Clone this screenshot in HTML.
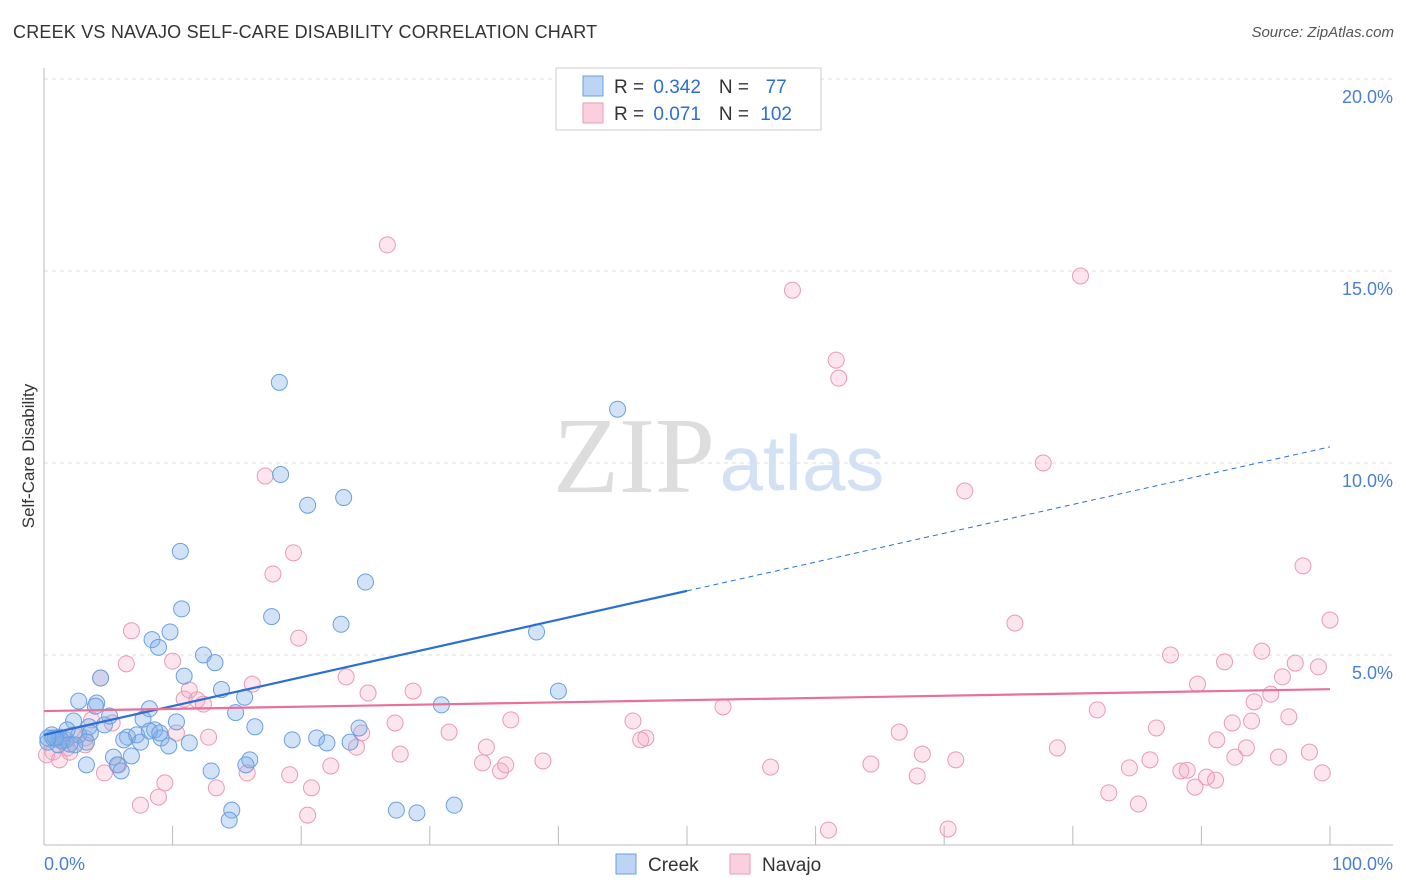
<!DOCTYPE html>
<html><head><meta charset="utf-8">
<style>
body{margin:0;background:#fff;font-family:"Liberation Sans",sans-serif;}
#wrap{position:relative;width:1406px;height:892px;overflow:hidden;}
.title{position:absolute;left:13px;top:22px;font-size:18px;color:#333;letter-spacing:0.2px;}
.source{position:absolute;right:12px;top:24px;font-size:15px;color:#555;font-style:italic;}
</style></head>
<body>
<div id="wrap">
<div class="title">CREEK VS NAVAJO SELF-CARE DISABILITY CORRELATION CHART</div>
<div class="source">Source: ZipAtlas.com</div>
<svg id="svg" width="1406" height="892" style="position:absolute;left:0;top:0">
<text x="634" y="492" font-family="Liberation Serif,serif" font-size="108" fill="#ddd" text-anchor="middle">ZIP</text>
<text x="802" y="490" font-family="Liberation Sans,sans-serif" font-size="78" fill="#d3e1f4" text-anchor="middle">atlas</text>
</svg>
</div>
<script>
const creekX=[18.3,44.6,18.4,20.5,23.3,10.6,25.0,10.7,17.7,23.1,9.8,8.4,8.9,12.4,13.3,4.4,10.9,13.8,15.6,2.7,4.1,4.0,8.2,14.9,30.9,40.0,38.3,2.3,10.3,7.7,16.4,4.7,3.5,24.5,8.6,6.5,7.2,0.6,1.2,1.7,2.7,3.6,9.1,19.3,21.2,22.0,23.8,7.5,9.7,11.3,1.1,2.0,3.3,0.3,16.0,15.7,6.8,5.4,5.7,6.0,13.0,3.3,14.6,14.4,27.4,29.0,31.9,0.7,1.4,5.1,6.2,8.2,9.0,2.4,1.8,0.9,0.3];
const creekY=[12.1,11.4,9.7,8.9,9.1,7.7,6.9,6.2,6.0,5.8,5.6,5.4,5.2,5.0,4.8,4.4,4.45,4.1,3.9,3.8,3.75,3.67,3.6,3.5,3.7,4.06,5.6,3.28,3.26,3.33,3.13,3.18,3.13,3.1,3.05,2.86,2.92,2.92,2.86,2.79,2.92,2.97,2.84,2.79,2.84,2.71,2.73,2.73,2.63,2.71,2.66,2.68,2.73,2.73,2.27,2.14,2.37,2.34,2.14,1.98,1.98,2.14,0.96,0.70,0.96,0.89,1.09,2.84,2.76,3.41,2.79,3.02,2.97,2.66,3.05,2.84,2.84];
const navajoX=[26.7,80.6,58.2,61.6,61.8,77.7,17.2,71.6,19.4,17.8,97.9,100.0,75.5,6.8,19.8,87.6,94.7,91.8,97.3,99.1,6.4,10.0,4.4,96.3,16.2,23.5,89.7,11.3,95.4,28.7,25.2,10.9,11.9,12.4,94.1,52.8,81.9,96.8,36.3,45.8,27.3,92.4,93.9,86.5,66.5,3.7,5.3,31.5,24.7,46.8,46.4,91.2,12.8,10.3,3.2,2.3,1.1,1.8,78.8,93.5,34.4,27.7,24.3,68.3,70.9,98.4,92.6,96.0,0.7,0.2,1.2,2.0,4.7,5.8,15.8,19.1,22.3,34.1,35.5,35.9,38.8,64.3,56.5,84.4,86.0,88.4,88.9,90.4,91.1,89.5,99.4,67.9,9.4,13.4,20.8,8.9,7.5,82.8,85.1,20.5,61.0,70.3,3.2];
const navajoY=[15.68,14.87,14.5,12.68,12.21,10.0,9.66,9.27,7.66,7.11,7.32,5.91,5.83,5.63,5.44,5.0,5.1,4.82,4.79,4.69,4.77,4.84,4.4,4.43,4.24,4.43,4.24,4.09,3.98,4.06,4.01,3.85,3.83,3.72,3.78,3.65,3.57,3.39,3.31,3.28,3.23,3.23,3.28,3.1,2.99,3.31,3.23,2.99,2.97,2.84,2.79,2.79,2.86,2.97,2.84,2.92,2.79,2.58,2.58,2.58,2.6,2.42,2.6,2.42,2.27,2.47,2.34,2.34,2.47,2.4,2.27,2.47,1.93,2.14,1.93,1.88,2.11,2.19,1.98,2.14,2.24,2.16,2.08,2.06,2.27,1.98,2.0,1.82,1.74,1.56,1.93,1.85,1.67,1.54,1.54,1.3,1.09,1.41,1.12,0.83,0.44,0.47,2.66];
const yTicks=[5,10,15,20];
const yTickLabels=["5.0%","10.0%","15.0%","20.0%"];
const xTicks=[0,10,20,30,40,50,60,70,80,90,100];
const creekTrend=[2.92,10.42];
const creekSolidEnd=50;
const navajoTrend=[3.54,4.11];

const X0=44,X1=1330,Y0=847,PX=38.4;
const sx=v=>X0+(X1-X0)*v/100;
const sy=v=>Y0-v*PX;
const NS="http://www.w3.org/2000/svg";
const svg=document.getElementById('svg');
function mk(tag,attrs,parent){const e=document.createElementNS(NS,tag);for(const k in attrs)e.setAttribute(k,attrs[k]);(parent||svg).appendChild(e);return e;}

yTicks.forEach((t,i)=>{
  const g=mk('line',{x1:X0,x2:1393,y1:sy(t),y2:sy(t),stroke:'#ddd','stroke-dasharray':'4,4'});
  
  
  const l=mk('text',{x:1393,y:sy(t)+24,'text-anchor':'end','font-size':18,fill:'#4a7fd4','font-family':'Liberation Sans,sans-serif'});
  l.textContent=yTickLabels[i];
  
  
});
const ax=mk('line',{x1:X0,x2:X0,y1:68,y2:845,stroke:'#bbb'});


const bx=mk('line',{x1:X0,x2:1393,y1:845,y2:845,stroke:'#bbb'});


xTicks.forEach(t=>{
  const tk=mk('line',{x1:sx(t),x2:sx(t),y1:826,y2:845,stroke:'#bbb'});
  
  
});
const xl0=mk('text',{x:44,y:870,'font-size':18,fill:'#4a7fd4'});xl0.textContent='0.0%';


const xl1=mk('text',{x:1393,y:870,'font-size':18,fill:'#4a7fd4','text-anchor':'end'});xl1.textContent='100.0%';


const yt=mk('text',{x:34,y:456,'font-size':17,fill:'#333','text-anchor':'middle',transform:'rotate(-90 34 456)'});yt.textContent='Self-Care Disability';



function pts(xs,ys,fill,stroke,name){
  xs.forEach((x,i)=>{
    const c=mk('circle',{cx:sx(x),cy:sy(ys[i]),r:8,fill:fill,stroke:stroke,'stroke-width':1});
    
    
  });
}
pts(navajoX,navajoY,'rgba(244,170,196,0.3)','#e99ab6','navajo-point');
pts(creekX,creekY,'rgba(130,175,232,0.35)','#6b9fe0','creek-point');

const ct=v=>creekTrend[0]+(creekTrend[1]-creekTrend[0])*v/100;
const l1=mk('line',{x1:sx(0),y1:sy(ct(0)),x2:sx(creekSolidEnd),y2:sy(ct(creekSolidEnd)),stroke:'#2a6fd6','stroke-width':2.2});


const l2=mk('line',{x1:sx(creekSolidEnd),y1:sy(ct(creekSolidEnd)),x2:sx(100),y2:sy(ct(100)),stroke:'#2a6fd6','stroke-width':1,'stroke-dasharray':'5,4'});


const l3=mk('line',{x1:sx(0),y1:sy(navajoTrend[0]),x2:sx(100),y2:sy(navajoTrend[1]),stroke:'#e8709a','stroke-width':2.2});



const lg=mk('rect',{x:556,y:68,width:265,height:62,fill:'#fff',stroke:'#ccc'});


function legRow(y,fill,stroke,r,n,name){
  const s=mk('rect',{x:583,y:y-10,width:20,height:20,fill:fill,stroke:stroke});
  
  
  const t=mk('text',{x:614,y:y+7,'font-size':19,fill:'#333'});
  t.innerHTML='R = <tspan fill="#2a6fd6" dx="4">'+r+'</tspan><tspan dx="18" fill="#333">N = </tspan><tspan fill="#2a6fd6" dx="6">'+n+'</tspan>';
  
  
}
legRow(86,'#bcd5f5','#6b9fe0','0.342','&#160;77','legend-creek');
legRow(113,'#fbd0de','#e99ab6','0.071','102','legend-navajo');
function botLeg(x,fill,stroke,label,name){
  const s=mk('rect',{x:x,y:854,width:20,height:20,fill:fill,stroke:stroke});
  
  
  const t=mk('text',{x:x+32,y:871,'font-size':19,fill:'#333'});t.textContent=label;
  
  
}
botLeg(616,'#bcd5f5','#6b9fe0','Creek','bottom-legend-creek');
botLeg(730,'#fbd0de','#e99ab6','Navajo','bottom-legend-navajo');
</script>
</body></html>
